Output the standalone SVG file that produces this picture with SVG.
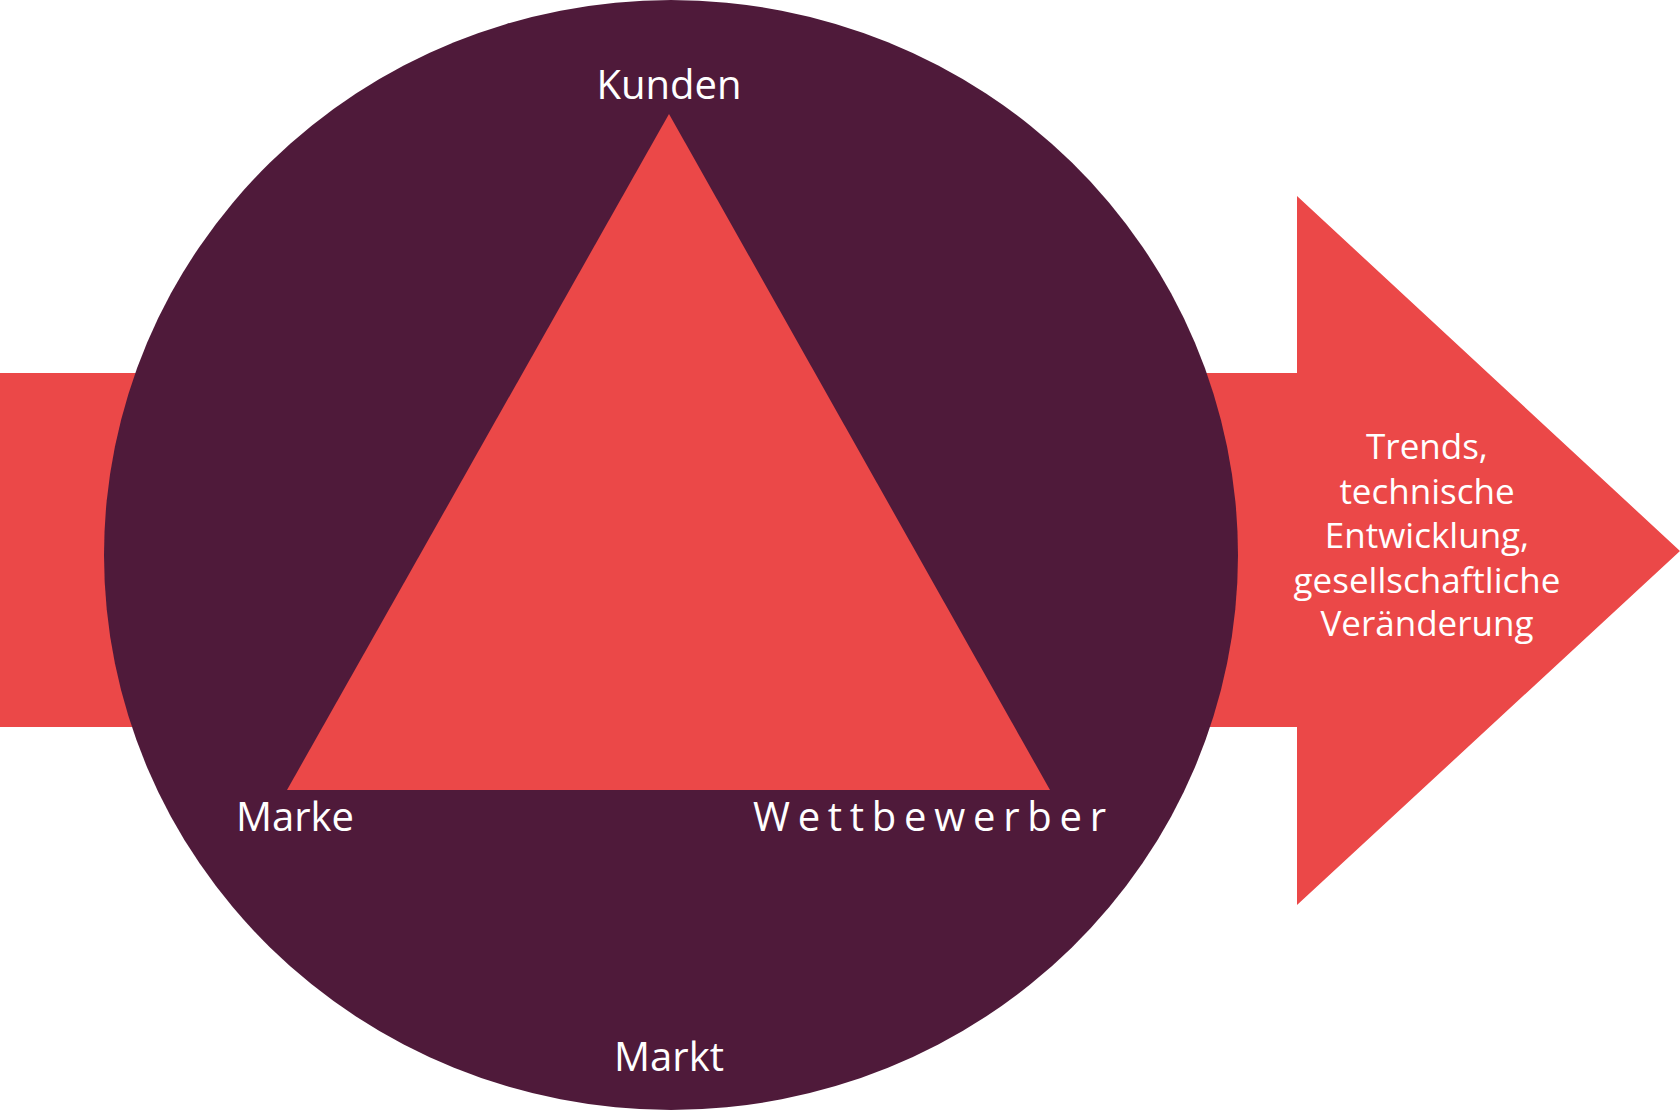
<svg xmlns="http://www.w3.org/2000/svg" width="1680" height="1112" viewBox="0 0 1680 1112">
<style>
.l{font-family:"Open Sans","DejaVu Sans",sans-serif;fill:#fff;font-size:40px}
.r{font-family:"Open Sans","DejaVu Sans",sans-serif;fill:#fff;font-size:35px;text-anchor:middle}
</style>
<rect width="1680" height="1112" fill="#fff"/>
<g id="arrow"><polygon points="0,373 1297,373 1297,196 1680,551 1297,905 1297,727 0,727" fill="#EB4848"/></g>
<g id="markt"><ellipse cx="671" cy="555" rx="567" ry="555" fill="#4F1A3A"/>
<text class="l" x="669" y="1071" text-anchor="middle">Markt</text></g>
<g id="triangle"><polygon points="669,114 287,790 1050,790" fill="#EB4848"/></g>
<g id="kunden"><text class="l" x="669" y="99" text-anchor="middle">Kunden</text></g>
<g id="marke"><text class="l" x="236" y="831">Marke</text></g>
<g id="wettbewerber"><text class="l" x="753" y="831" textLength="353">Wettbewerber</text></g>
<g id="trends"><text class="r" x="1427" y="459">Trends,</text>
<text class="r" x="1427" y="504">technische</text>
<text class="r" x="1427" y="548">Entwicklung,</text>
<text class="r" x="1427" y="593">gesellschaftliche</text>
<text class="r" x="1427" y="636">Veränderung</text></g>
<g id="connectors"/>
</svg>
